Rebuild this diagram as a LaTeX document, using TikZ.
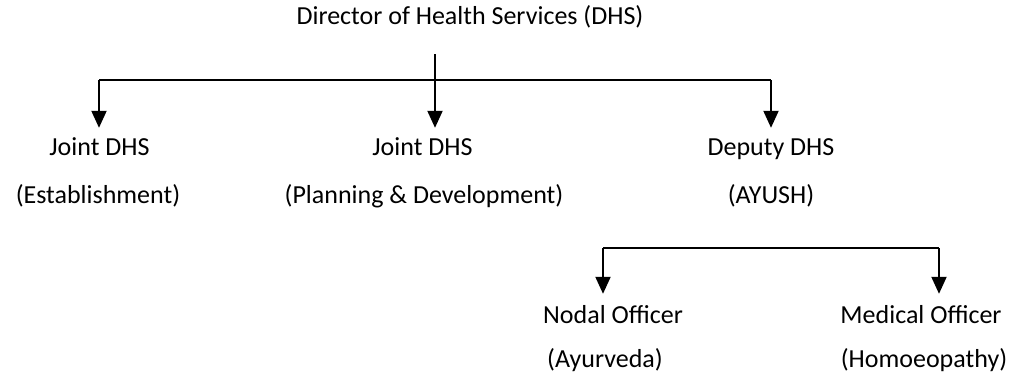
\documentclass[tikz,border=0pt]{standalone}
\usepackage{fontspec}
\setmainfont{Carlito}
\usetikzlibrary{arrows.meta}
\begin{document}
\begin{tikzpicture}[x=1bp,y=-1bp,
  every node/.style={font=\fontsize{26bp}{30bp}\selectfont, inner xsep=0pt, text height=18bp, text depth=6bp, anchor=base},
  lbl/.style={inner ysep=9bp},
  lbllow/.style={inner ysep=11bp},
  ln/.style={line width=2bp, line cap=butt},
  arr/.style={ln, -{Triangle[width=15bp,length=17bp]}}]
\useasboundingbox (0,0) rectangle (1017,379);
% nodes
\node (dhs) at (470,24) {Director of Health Services (DHS)};
\node[lbl] (j1) at (99.5,155) {Joint DHS};
\node (j1s) at (98,203) {(Establishment)};
\node[lbl] (j2) at (422.5,155) {Joint DHS};
\node (j2s) at (424,203) {(Planning \& Development)};
\node[lbl] (dp) at (771,155) {Deputy DHS};
\node (dps) at (771,203) {(AYUSH)};
\node[lbllow] (no) at (613,323) {Nodal Officer};
\node (nos) at (605,367) {(Ayurveda)};
\node[lbllow] (mo) at (921,323) {Medical Officer};
\node (mos) at (924,367) {(Homoeopathy)};
% connectors
\coordinate (top) at (435,54);
\coordinate (bar) at (435,80);
\coordinate (barL) at (99,80);
\coordinate (barR) at (771,80);
\draw[ln] (top) -- (bar);
\draw[ln] (barL) -- (barR);
\draw[arr] (barL) -- (barL |- j1.north);
\draw[arr] (bar) -- (bar |- j2.north);
\draw[arr] (barR) -- (barR |- dp.north);
\coordinate (lbL) at (603,248);
\coordinate (lbR) at (939,248);
\draw[ln] (lbL) -- (lbR);
\draw[arr] (lbL) -- (lbL |- no.north);
\draw[arr] (lbR) -- (lbR |- mo.north);
\end{tikzpicture}
\end{document}
